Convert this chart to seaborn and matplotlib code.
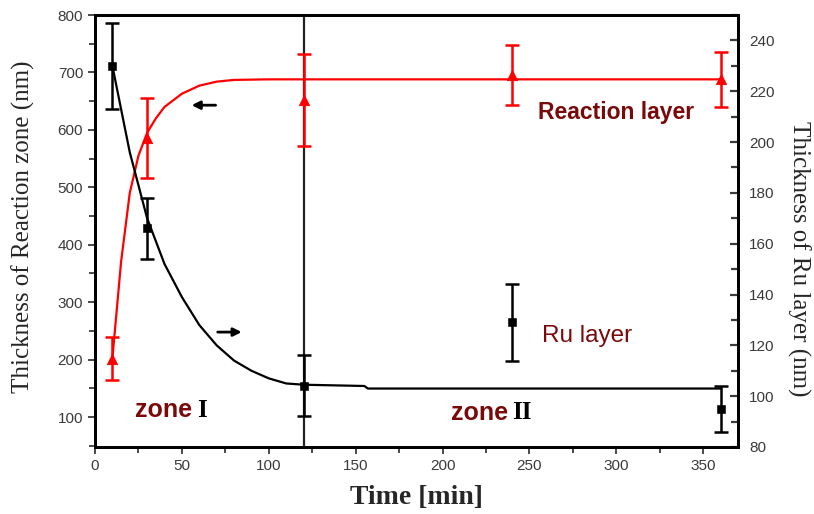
import seaborn as sns
import matplotlib.pyplot as plt
import pandas as pd
from matplotlib.ticker import MultipleLocator

# Measured points: time [min], thickness and error bar half-widths.
time_pts = [10, 30, 120, 240, 360]
reaction_nm = [202, 586, 652, 696, 688]
reaction_err = [37, 70, 80, 52, 48]
ru_nm = [230, 166, 104, 129, 95]
ru_err = [17, 12, 12, 15, 9]

# Fitted curves.
reaction_fit_t = [10, 15, 20, 25, 30, 35, 40, 50, 60, 70, 80, 100, 150, 250, 360]
reaction_fit = [202, 370, 490, 555, 595, 620, 640, 663, 677, 684, 687, 688, 688, 688, 688]
ru_fit_t = [10, 20, 30, 40, 50, 60, 70, 80, 90, 100, 110, 120, 155, 157, 250, 360]
ru_fit = [230, 196, 170, 152, 139, 128, 120, 114, 110, 107, 105, 104.5, 104, 103, 103, 103]

sns.set_theme(style="ticks")
plt.rcParams['font.family'] = ['Liberation Sans', 'DejaVu Sans']

red = '#ff0000'
dark_red = '#7a0a0a'
tick_col = '#3a3a3a'

fig = plt.figure(figsize=(8.14, 5.14), dpi=100)
ax = fig.add_axes([0.1167, 0.1304, 0.79, 0.8404])
ax2 = ax.twinx()

# Reaction layer on the left axis.
fit_r = pd.DataFrame({'t': reaction_fit_t, 'v': reaction_fit})
sns.lineplot(data=fit_r, x='t', y='v', ax=ax, color=red, lw=1.6, sort=False)
ax.errorbar(time_pts, reaction_nm, yerr=reaction_err, fmt='none', ecolor=red,
            elinewidth=1.8, capsize=5, capthick=1.8, zorder=4)
pts_r = pd.DataFrame({'t': time_pts, 'v': reaction_nm})
sns.scatterplot(data=pts_r, x='t', y='v', ax=ax, marker='^', color=red, s=55,
                edgecolor=red, zorder=5)

# Ru layer on the right axis.
fit_ru = pd.DataFrame({'t': ru_fit_t, 'v': ru_fit})
sns.lineplot(data=fit_ru, x='t', y='v', ax=ax2, color='black', lw=1.6, sort=False)
ax2.errorbar(time_pts, ru_nm, yerr=ru_err, fmt='none', ecolor='black',
             elinewidth=1.8, capsize=5, capthick=1.8, zorder=4)
pts_ru = pd.DataFrame({'t': time_pts, 'v': ru_nm})
sns.scatterplot(data=pts_ru, x='t', y='v', ax=ax2, marker='s', color='black', s=28,
                edgecolor='black', zorder=5)

ax.axvline(120, color='#222222', lw=1.6, zorder=3)

ax.set_xlim(0, 370)
ax.set_ylim(48, 800)
ax2.set_ylim(80, 250)

ax.xaxis.set_major_locator(MultipleLocator(50))
ax.xaxis.set_minor_locator(MultipleLocator(25))
ax.yaxis.set_major_locator(MultipleLocator(100))
ax.yaxis.set_minor_locator(MultipleLocator(50))
ax.set_yticks(range(100, 801, 100))
ax2.set_yticks(range(80, 241, 20))
ax2.yaxis.set_minor_locator(MultipleLocator(10))

ax.tick_params(axis='both', which='both', direction='out', labelsize=11,
               labelcolor=tick_col, width=1.3, color=tick_col)
ax.tick_params(which='major', length=5)
ax.tick_params(which='minor', length=4)
ax2.tick_params(axis='y', which='both', direction='in', labelsize=11,
                labelcolor=tick_col, width=1.6, color=tick_col, pad=8)
ax2.tick_params(which='major', length=6)
ax2.tick_params(which='minor', length=5)

for a in (ax, ax2):
    for sp in a.spines.values():
        sp.set_visible(True)
        sp.set_linewidth(2)
        sp.set_color('black')

ax.set_xlabel('Time [min]', family='Liberation Serif', fontweight='bold',
              fontsize=20, labelpad=9)
ax.set_ylabel('Thickness of Reaction zone (nm)', family='Liberation Serif',
              fontsize=18, va='center', ha='center')
ax.yaxis.set_label_coords(-0.112, 0.51)
ax2.set_ylabel('Thickness of Ru layer (nm)', family='Liberation Serif',
               fontsize=18, rotation=-90, va='center', ha='center')
ax2.yaxis.set_label_coords(1.095, 0.435)

# Annotations.
ax.text(255, 631, 'Reaction layer', color=dark_red, fontsize=16.5,
        fontweight='bold', va='center', ha='left')
ax.text(257, 241, 'Ru layer', color=dark_red, fontsize=17.5, va='center', ha='left')
ax.text(23, 112, 'zone', color=dark_red, fontsize=18, fontweight='bold',
        va='center', ha='left')
ax.text(59, 112, 'I', color='black', fontsize=18, family='Liberation Serif',
        fontweight='bold', va='center', ha='left')
ax.text(205, 108, 'zone', color=dark_red, fontsize=18, fontweight='bold',
        va='center', ha='left')
ax.text(240, 108, 'II', color='black', fontsize=18, family='Liberation Serif',
        fontweight='bold', va='center', ha='left')

ax.annotate('', xy=(54, 643), xytext=(71, 643),
            arrowprops=dict(arrowstyle='-|>', color='black', lw=2, mutation_scale=12))
ax.annotate('', xy=(86, 248), xytext=(69, 248),
            arrowprops=dict(arrowstyle='-|>', color='black', lw=2, mutation_scale=12))

plt.savefig('out.png', dpi=100)
